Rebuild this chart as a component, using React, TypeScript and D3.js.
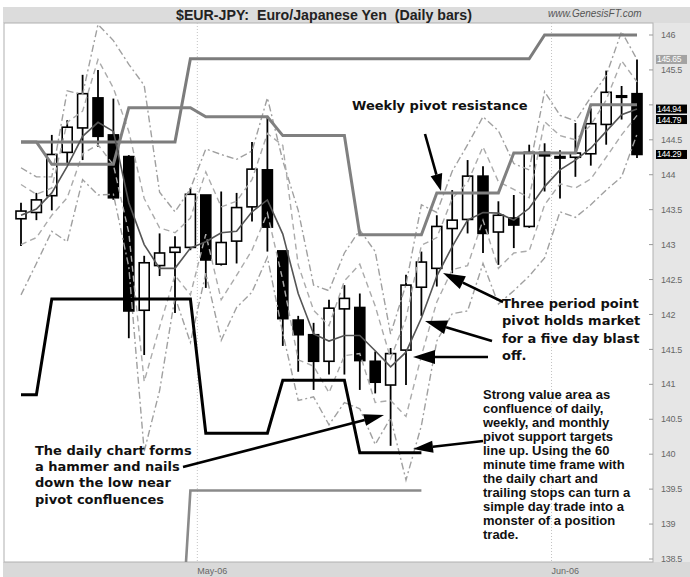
import React from "react";
import * as d3 from "d3";

// daily bars, Apr 13 - Jun 8 2006 (index = trading day)
const opens = [143.37, 143.46, 143.70, 144.32, 144.67, 145.10, 144.57, 144.26, 142.06, 142.70, 142.89, 142.96, 143.71, 142.72, 143.05, 143.54, 144.07, 142.91, 141.92, 141.71, 141.33, 142.08, 142.10, 141.33, 140.99, 141.49, 142.39, 142.66, 143.23, 143.36, 143.98, 143.18, 143.38, 143.26, 144.32, 144.26, 144.25, 144.30, 144.72, 145.13, 145.16];
const highs = [143.60, 143.74, 144.57, 144.78, 145.43, 145.50, 145.09, 144.28, 142.84, 143.16, 143.12, 143.81, 143.71, 143.76, 143.74, 144.47, 144.83, 142.91, 141.98, 141.88, 142.21, 142.42, 142.30, 141.47, 141.52, 142.57, 142.90, 143.42, 143.78, 144.21, 144.12, 143.62, 143.71, 144.43, 144.45, 144.35, 144.74, 144.95, 145.49, 145.27, 145.65];
const lows = [142.98, 143.35, 143.49, 144.17, 144.21, 144.40, 143.64, 141.66, 141.42, 142.55, 142.02, 142.92, 142.38, 142.70, 142.73, 143.33, 142.90, 141.55, 141.18, 140.92, 141.14, 141.14, 140.92, 140.87, 140.12, 140.99, 141.98, 142.40, 142.59, 143.16, 142.88, 142.71, 142.95, 143.24, 143.76, 143.66, 143.97, 144.13, 144.43, 144.79, 144.24];
const closes = [143.48, 143.64, 144.29, 144.68, 145.16, 144.55, 143.67, 142.05, 142.74, 142.88, 142.96, 143.72, 142.78, 143.03, 143.53, 144.08, 143.25, 141.94, 141.71, 141.33, 142.09, 142.23, 141.34, 141.03, 141.44, 142.42, 142.75, 143.26, 143.35, 143.98, 143.16, 143.42, 143.28, 144.32, 144.27, 144.24, 144.31, 144.73, 145.18, 145.11, 144.29];

// three period point pivot
const pivot3 = [143.42, 143.51, 143.74, 144.12, 144.55, 144.75, 144.62, 143.6, 143.0, 142.66, 142.66, 142.95, 143.04, 143.17, 143.19, 143.47, 143.64, 143.15, 142.3, 141.72, 141.62, 141.7, 141.7, 141.48, 141.25, 141.46, 141.95, 142.55, 142.97, 143.35, 143.46, 143.45, 143.35, 143.52, 143.83, 144.07, 144.21, 144.38, 144.62, 144.86, 144.94];

// daily pivot targets
const dailyR2 = [144.10, 143.97, 143.97, 145.20, 145.15, 146.15, 145.92, 145.58, 145.28, 143.75, 143.47, 143.80, 144.37, 144.29, 144.22, 144.34, 145.10, 144.2, 143.49, 142.42, 142.34, 142.88, 143.21, 142.90, 141.72, 142.43, 143.57, 143.46, 144.05, 144.43, 144.83, 144.63, 144.16, 144.07, 145.19, 144.85, 144.77, 145.11, 145.42, 146.05, 145.65];
const dailyR1 = [143.86, 143.72, 143.81, 144.75, 144.91, 145.65, 145.24, 144.62, 143.66, 143.24, 143.17, 143.38, 144.04, 143.54, 143.62, 143.93, 144.59, 144.42, 142.71, 142.06, 141.84, 142.48, 142.72, 142.12, 141.37, 141.94, 142.99, 143.10, 143.66, 143.89, 144.40, 143.90, 143.79, 143.67, 144.76, 144.56, 144.50, 144.71, 145.07, 145.63, 145.33];
const dailyS1 = [143.00, 143.10, 143.42, 143.67, 144.30, 144.43, 144.14, 143.17, 141.04, 141.82, 142.56, 142.28, 143.15, 142.21, 142.56, 142.92, 143.45, 142.49, 141.35, 141.26, 140.88, 141.41, 141.44, 140.74, 140.77, 140.54, 141.41, 142.18, 142.64, 142.70, 143.35, 142.66, 142.88, 142.91, 143.57, 143.87, 143.81, 143.94, 144.25, 144.57, 144.85];
const dailyS2 = [142.28, 142.73, 143.19, 143.04, 143.93, 143.71, 143.72, 142.68, 140.04, 140.91, 142.25, 141.60, 142.59, 141.63, 142.10, 142.32, 142.82, 141.73, 140.77, 140.82, 140.42, 140.74, 140.65, 140.14, 140.52, 139.63, 140.41, 141.62, 142.01, 142.05, 142.73, 142.15, 142.34, 142.55, 142.81, 143.47, 143.39, 143.57, 143.78, 143.97, 144.58];

// weekly / monthly pivots
const monthlyR = [144.47, 144.47, 144.47, 144.47, 144.47, 144.47, 144.47, 144.47, 144.47, 144.47, 144.47, 145.66, 145.66, 145.66, 145.66, 145.66, 145.66, 145.66, 145.66, 145.66, 145.66, 145.66, 145.66, 145.66, 145.66, 145.66, 145.66, 145.66, 145.66, 145.66, 145.66, 145.66, 145.66, 145.66, 146.0, 146.0, 146.0, 146.0, 146.0, 146.0, 146.0];
const weeklyR = [144.47, 144.47, 144.15, 144.15, 144.15, 144.15, 144.15, 144.96, 144.96, 144.96, 144.96, 144.96, 144.83, 144.83, 144.83, 144.83, 144.83, 144.56, 144.56, 144.56, 144.56, 144.56, 143.14, 143.14, 143.14, 143.14, 143.14, 143.74, 143.74, 143.74, 143.74, 143.74, 144.31, 144.31, 144.31, 144.31, 144.31, 145.0, 145.0, 145.0, 145.0];
const weeklyS = [140.85, 140.85, 142.22, 142.22, 142.22, 142.22, 142.22, 142.22, 142.22, 142.22, 142.22, 142.22, 140.3, 140.3, 140.3, 140.3, 140.3, 141.06, 141.06, 141.06, 141.06, 141.06, 140.02, 140.02, 140.02, 140.02, 140.02];
const monthlyS = [135.9, 135.9, 135.9, 135.9, 135.9, 135.9, 135.9, 135.9, 135.9, 135.9, 135.9, 139.48, 139.48, 139.48, 139.48, 139.48, 139.48, 139.48, 139.48, 139.48, 139.48, 139.48, 139.48, 139.48, 139.48, 139.48, 139.48];

const yTicks = [138.5, 139, 139.5, 140, 140.5, 141, 141.5, 142, 142.5, 143, 143.5, 144, 144.5, 145, 145.5, 146];
const monthNames = ["May-06", "Jun-06"];
const monthStarts = [11.45, 34.45];
const priceTags = [145.65, 144.94, 144.79, 144.29];
const priceTagFill = ["#a3a3a3", "#000", "#000", "#000"];

const plot = { left: 4, right: 653, top: 23, bottom: 562 };

const heavy = "'DejaVu Sans', Verdana, sans-serif";
const arial = "'Liberation Sans', Arial, Helvetica, sans-serif";

const notes = [
  { lines: ["Weekly pivot resistance"], x: 352, y: 110, font: heavy, size: 13, lh: 0 },
  { lines: ["Three period point", "pivot holds market", "for a five day blast", "off."], x: 502, y: 308, font: heavy, size: 13, lh: 17.3 },
  { lines: ["The daily chart forms", "a hammer and nails", "down the low near", "pivot confluences"], x: 35, y: 455, font: heavy, size: 13, lh: 16.2 },
  {
    lines: ["Strong value area as", "confluence of daily,", "weekly, and monthly", "pivot support targets", "line up. Using the 60", "minute time frame with", "the daily chart and", "trailing stops can turn a", "simple day trade into a", "monster of a position", "trade."],
    x: 483, y: 399, font: arial, size: 13, lh: 14,
  },
];

const arrows = [
  { from: [425, 134], to: [441, 191], len: 17, half: 6 },
  { from: [503, 302], to: [443, 273], len: 22, half: 7 },
  { from: [492, 341], to: [425, 321], len: 22, half: 7 },
  { from: [488, 357], to: [413, 357], len: 22, half: 7 },
  { from: [183, 467], to: [384, 415], len: 20, half: 6 },
  { from: [483, 441], to: [413, 449], len: 20, half: 6 },
];

function Arrow({ from, to, len, half }: { from: number[]; to: number[]; len: number; half: number }) {
  const dx = to[0] - from[0];
  const dy = to[1] - from[1];
  const d = Math.hypot(dx, dy);
  const ux = dx / d, uy = dy / d;
  const bx = to[0] - ux * len, by = to[1] - uy * len;
  const pts = [[to[0], to[1]], [bx - uy * half, by + ux * half], [bx + uy * half, by - ux * half]];
  return (
    <g>
      <line x1={from[0]} y1={from[1]} x2={bx} y2={by} stroke="#000" strokeWidth={2.6} />
      <polygon points={pts.map((p) => p.join(",")).join(" ")} fill="#000" />
    </g>
  );
}

export default function App() {
  const x = d3.scaleLinear().domain([0, 40]).range([21, 637]);
  const y = d3.scaleLinear().domain([138.5, 146]).range([559, 35]);
  const line = d3.line<number>().x((d, i) => x(i)).y((d) => y(d));
  const bodyW = 10;
  // axis labels hidden behind a price tag are not drawn
  const hidden = (t: number) => priceTags.some((p) => Math.abs(y(p) - y(t)) < 6);

  return (
    <svg width={690} height={577} style={{ position: "absolute", left: 0, top: 0, background: "#fff" }}>
      <defs>
        <clipPath id="plotClip">
          <rect x={plot.left} y={plot.top} width={plot.right - plot.left} height={plot.bottom - plot.top} />
        </clipPath>
      </defs>

      {/* frame */}
      <rect x={3} y={7} width={687} height={16} fill="#dcdcdc" />
      <rect x={plot.right} y={plot.top} width={690 - plot.right} height={plot.bottom - plot.top} fill="#e6e6e6" />
      <rect x={3} y={plot.bottom} width={687} height={577 - plot.bottom} fill="#d9d9d9" />
      <rect x={plot.left} y={plot.top} width={plot.right - plot.left} height={plot.bottom - plot.top} fill="#fff" stroke="#b0b0b0" strokeWidth={1} />

      {/* month separators */}
      {monthStarts.map((m, i) => (
        <g key={monthNames[i]}>
          <line x1={x(m)} x2={x(m)} y1={plot.top} y2={plot.bottom} stroke="#c4c4c4" strokeDasharray="1,2" />
          <text x={x(m)} y={574} fontFamily={arial} fontSize={9} fill="#666">{monthNames[i]}</text>
        </g>
      ))}

      <g clipPath="url(#plotClip)">
        {/* candles */}
        {opens.map((o, i) => {
          const c = closes[i];
          const up = c >= o;
          const top = y(Math.max(o, c));
          const bot = y(Math.min(o, c));
          return (
            <g key={i}>
              <line x1={x(i)} x2={x(i)} y1={y(highs[i])} y2={y(lows[i])} stroke="#000" strokeWidth={1.8} />
              <rect x={x(i) - bodyW / 2} y={top} width={bodyW} height={Math.max(bot - top, 1.5)} fill={up ? "#fff" : "#000"} stroke="#000" strokeWidth={1.6} />
            </g>
          );
        })}

        {/* daily pivot targets */}
        <path d={line(dailyR2) ?? ""} fill="none" stroke="#a0a0a0" strokeWidth={1.4} strokeDasharray="7,3,2,3" />
        <path d={line(dailyS2) ?? ""} fill="none" stroke="#a0a0a0" strokeWidth={1.4} strokeDasharray="7,3,2,3" />
        <path d={line(dailyR1) ?? ""} fill="none" stroke="#ababab" strokeWidth={1.4} strokeDasharray="6,4" />
        <path d={line(dailyS1) ?? ""} fill="none" stroke="#ababab" strokeWidth={1.4} strokeDasharray="6,4" />

        {/* weekly & monthly pivots */}
        <path d={line(monthlyS) ?? ""} fill="none" stroke="#8a8a8a" strokeWidth={2.6} />
        <path d={line(monthlyR) ?? ""} fill="none" stroke="#7c7c7c" strokeWidth={3} />
        <path d={line(weeklyR) ?? ""} fill="none" stroke="#808080" strokeWidth={3} />
        <path d={line(weeklyS) ?? ""} fill="none" stroke="#000" strokeWidth={3} />

        {/* three period point pivot */}
        <path d={line(pivot3) ?? ""} fill="none" stroke="#555" strokeWidth={1.6} />
      </g>

      {/* right axis */}
      {yTicks.map((t) => (
        <g key={t}>
          <line x1={plot.right - 4} x2={plot.right} y1={y(t)} y2={y(t)} stroke="#999" />
          {!hidden(t) && (
            <text x={661} y={y(t)} dy="0.35em" fontFamily={arial} fontSize={9} fill="#666" letterSpacing={-0.3}>{String(t)}</text>
          )}
        </g>
      ))}
      {priceTags.map((p, i) => (
        <g key={p}>
          <rect x={656} y={y(p) - 4.5} width={31} height={9} fill={priceTagFill[i]} />
          <text x={657} y={y(p)} dy="0.35em" fontFamily={arial} fontSize={8.5} fill="#fff" letterSpacing={-0.3}>{p.toFixed(2)}</text>
        </g>
      ))}

      {/* annotations */}
      {arrows.map((a, i) => (
        <Arrow key={i} {...a} />
      ))}
      {notes.map((n, i) => (
        <text key={i} fontFamily={n.font} fontSize={n.size} fontWeight="bold" fill="#111">
          {n.lines.map((l, j) => (
            <tspan key={j} x={n.x} y={n.y + j * n.lh}>{l}</tspan>
          ))}
        </text>
      ))}

      {/* title */}
      <text x={324} y={20} textAnchor="middle" fontFamily={arial} fontSize={14.2} fontWeight="bold" fill="#222" style={{ whiteSpace: "pre" }}>
        {"$EUR-JPY:  Euro/Japanese Yen  (Daily bars)"}
      </text>
      <text x={548} y={17} fontFamily={arial} fontSize={10} fontStyle="italic" fill="#555">www.GenesisFT.com</text>
    </svg>
  );
}
